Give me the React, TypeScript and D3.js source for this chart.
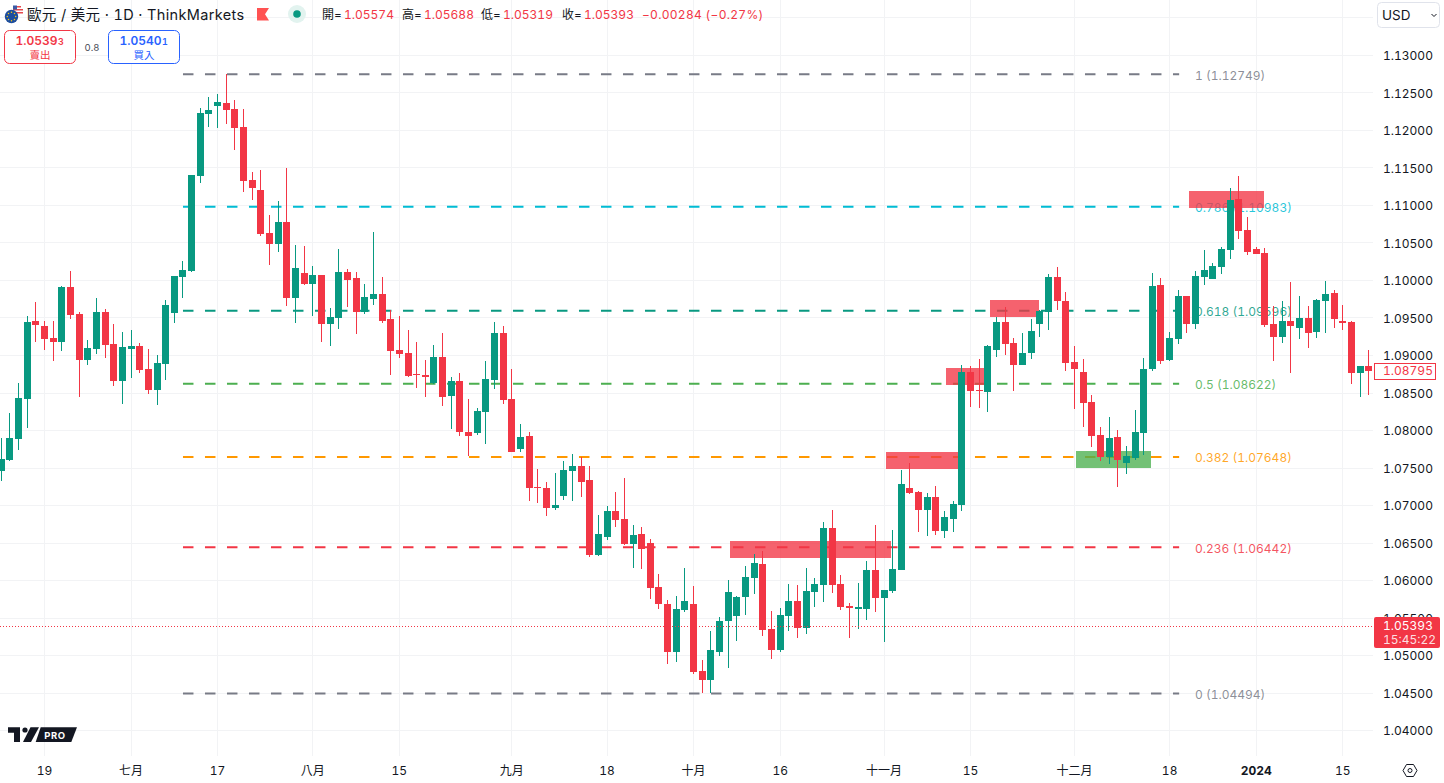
import React from "react";
import { scaleLinear } from "d3";

const WIDTH = 1444;
const HEIGHT = 783;
const UP = "#089981";
const DOWN = "#F23645";
const FONT = 'Inter, "Noto Sans CJK TC", sans-serif';
const TABULAR = { fontVariantNumeric: "tabular-nums" };

const highs = [
  1.079, 1.08233, 1.08633, 1.09527, 1.09713, 1.0946, 1.0946, 1.09927, 1.10127, 1.0958,
  1.09207, 1.09767, 1.0962, 1.0942, 1.09313, 1.0934, 1.09167, 1.09087, 1.09007, 1.0974,
  1.1006, 1.1026, 1.11407, 1.123, 1.12447, 1.12487, 1.12749, 1.12407, 1.12287, 1.11447,
  1.11473, 1.10873, 1.1106, 1.115, 1.10473, 1.1046, 1.10193, 1.10073, 1.09633, 1.1042,
  1.10153, 1.10114, 1.09954, 1.10647, 1.10047, 1.09607, 1.09527, 1.0934, 1.0918, 1.0894,
  1.0914, 1.093, 1.08714, 1.08767, 1.0842, 1.083, 1.08927, 1.09447, 1.09394, 1.0882,
  1.08087, 1.0798, 1.07487, 1.07314, 1.07434, 1.07594, 1.07687, 1.07647, 1.07527, 1.06874,
  1.06994, 1.0718, 1.07367, 1.0674, 1.06714, 1.06553, 1.06086, 1.0574, 1.05793, 1.06166,
  1.05926, 1.0494, 1.05326, 1.05513, 1.06006, 1.05793, 1.06193, 1.06353, 1.06393, 1.05593,
  1.05633, 1.05953, 1.0594, 1.06166, 1.06033, 1.0678, 1.0694, 1.06073, 1.057, 1.05966,
  1.0626, 1.0674, 1.05873, 1.06673, 1.07473, 1.07567, 1.07193, 1.07167, 1.0726, 1.06927,
  1.0706, 1.08873, 1.0886, 1.08953, 1.0914, 1.09513, 1.09647, 1.09233, 1.093, 1.09487,
  1.09607, 1.10087, 1.1018, 1.09847, 1.09127, 1.08953, 1.08473, 1.08047, 1.0818, 1.08007,
  1.07793, 1.08273, 1.08967, 1.101, 1.10033, 1.09313, 1.09874, 1.09794, 1.10127, 1.10407,
  1.10234, 1.10447, 1.11234, 1.11394, 1.10847, 1.10447, 1.10434, 1.0966, 1.09727, 1.0998,
  1.09794, 1.0966, 1.09754, 1.09994, 1.09874, 1.09674, 1.0946, 1.0886, 1.09074,
];

const lows = [
  1.07327, 1.07593, 1.0774, 1.08033, 1.0918, 1.09073, 1.08927, 1.0906, 1.09487, 1.08447,
  1.08873, 1.0902, 1.08967, 1.08593, 1.08353, 1.087, 1.08767, 1.08487, 1.0834, 1.08673,
  1.09433, 1.09767, 1.10113, 1.113, 1.12047, 1.12033, 1.12087, 1.1174, 1.1118, 1.11073,
  1.10593, 1.10207, 1.1038, 1.0966, 1.09433, 1.0994, 1.09527, 1.0918, 1.09127, 1.09353,
  1.09647, 1.09287, 1.09554, 1.09674, 1.09434, 1.0874, 1.08967, 1.08714, 1.08567, 1.08447,
  1.0862, 1.08327, 1.0802, 1.07927, 1.0766, 1.0794, 1.0782, 1.08554, 1.08354, 1.07714,
  1.07714, 1.0706, 1.07034, 1.0686, 1.0694, 1.07074, 1.0706, 1.07114, 1.06314, 1.06327,
  1.0654, 1.06714, 1.06474, 1.06167, 1.06154, 1.05753, 1.0562, 1.04886, 1.04913, 1.0558,
  1.04753, 1.04494, 1.045, 1.04993, 1.04833, 1.05193, 1.0554, 1.0582, 1.0526, 1.04953,
  1.05046, 1.05326, 1.05233, 1.05286, 1.05646, 1.05713, 1.05833, 1.05606, 1.05233, 1.05353,
  1.05473, 1.0558, 1.0518, 1.05833, 1.0614, 1.07153, 1.06647, 1.06593, 1.06607, 1.06567,
  1.06647, 1.06927, 1.08313, 1.083, 1.08247, 1.0898, 1.09007, 1.08527, 1.08873, 1.08953,
  1.09247, 1.0934, 1.09607, 1.08793, 1.08287, 1.08047, 1.0778, 1.07593, 1.07553, 1.07247,
  1.0742, 1.07607, 1.07673, 1.08793, 1.08887, 1.08927, 1.09154, 1.093, 1.09354, 1.0994,
  1.1002, 1.10087, 1.10287, 1.10554, 1.1034, 1.10354, 1.0938, 1.08927, 1.09167, 1.08767,
  1.0922, 1.091, 1.09234, 1.093, 1.09367, 1.0934, 1.0862, 1.08447, 1.08474,
];

const opens = [
  1.0746, 1.07607, 1.07887, 1.0842, 1.0946, 1.09393, 1.09233, 1.0918, 1.09913, 1.09553,
  1.0894, 1.09087, 1.0958, 1.09153, 1.0866, 1.09087, 1.09127, 1.0882, 1.0854, 1.08887,
  1.09567, 1.10047, 1.10127, 1.11393, 1.1222, 1.12327, 1.12367, 1.12287, 1.12047, 1.1134,
  1.11207, 1.10633, 1.10487, 1.1078, 1.09767, 1.101, 1.09953, 1.10073, 1.0942, 1.095,
  1.10113, 1.10034, 1.0958, 1.09754, 1.0982, 1.09487, 1.09074, 1.09034, 1.08754, 1.0874,
  1.08634, 1.0898, 1.0846, 1.0866, 1.0798, 1.07967, 1.08247, 1.08674, 1.093, 1.0842,
  1.07754, 1.07927, 1.07247, 1.07234, 1.06967, 1.07127, 1.0746, 1.07527, 1.0734, 1.0634,
  1.0658, 1.06927, 1.0682, 1.06487, 1.0662, 1.065, 1.05913, 1.05686, 1.05046, 1.05606,
  1.05686, 1.04793, 1.04673, 1.05046, 1.0546, 1.05526, 1.0578, 1.06033, 1.0622, 1.05353,
  1.05073, 1.05526, 1.05726, 1.05366, 1.05846, 1.0594, 1.067, 1.05953, 1.0566, 1.0562,
  1.0562, 1.0614, 1.05766, 1.0586, 1.0614, 1.07233, 1.0718, 1.0694, 1.07113, 1.0666,
  1.0682, 1.07007, 1.0878, 1.0854, 1.08513, 1.09073, 1.09447, 1.09167, 1.08873, 1.09033,
  1.0942, 1.0958, 1.10047, 1.09727, 1.08913, 1.0878, 1.0838, 1.0794, 1.07647, 1.07913,
  1.07567, 1.07633, 1.07967, 1.0882, 1.0994, 1.0894, 1.0922, 1.09794, 1.0942, 1.10047,
  1.1002, 1.1018, 1.10407, 1.11087, 1.10674, 1.1042, 1.10367, 1.0942, 1.09247, 1.0946,
  1.09367, 1.095, 1.09314, 1.09727, 1.09834, 1.0946, 1.09447, 1.08767, 1.0886,
];

const closes = [
  1.0762, 1.079, 1.08433, 1.09447, 1.09407, 1.0922, 1.0918, 1.09913, 1.0954, 1.0894,
  1.091, 1.0958, 1.0914, 1.0866, 1.09113, 1.09127, 1.08807, 1.0854, 1.089, 1.09673,
  1.1006, 1.1014, 1.11407, 1.12233, 1.12273, 1.1238, 1.12273, 1.12033, 1.11327, 1.11233,
  1.1062, 1.10487, 1.1078, 1.09767, 1.10167, 1.09953, 1.10073, 1.0942, 1.09513, 1.10113,
  1.10007, 1.0958, 1.0978, 1.0982, 1.0946, 1.0906, 1.0902, 1.08727, 1.0874, 1.08714,
  1.0898, 1.08447, 1.0866, 1.0798, 1.07927, 1.0826, 1.08687, 1.093, 1.08407, 1.07714,
  1.07914, 1.07234, 1.07234, 1.06967, 1.07007, 1.07474, 1.07527, 1.07314, 1.0634, 1.0662,
  1.06927, 1.06807, 1.06487, 1.06607, 1.0642, 1.059, 1.05686, 1.05046, 1.0562, 1.05726,
  1.0478, 1.04673, 1.05073, 1.0546, 1.05846, 1.0578, 1.06046, 1.06233, 1.0534, 1.05073,
  1.0554, 1.05726, 1.05366, 1.0586, 1.05953, 1.067, 1.0594, 1.05646, 1.05633, 1.05646,
  1.0614, 1.05766, 1.05873, 1.06153, 1.07286, 1.07167, 1.0694, 1.07113, 1.0666, 1.06847,
  1.0702, 1.0878, 1.08527, 1.08527, 1.09127, 1.09447, 1.09153, 1.08873, 1.09033, 1.09327,
  1.09593, 1.10047, 1.09727, 1.089, 1.0882, 1.08367, 1.07927, 1.07647, 1.079, 1.07607,
  1.0766, 1.0798, 1.0882, 1.09927, 1.08927, 1.09233, 1.09794, 1.0942, 1.1006, 1.1014,
  1.10194, 1.1042, 1.11074, 1.1066, 1.1038, 1.10354, 1.09407, 1.09247, 1.0946, 1.09394,
  1.095, 1.093, 1.0974, 1.0982, 1.09487, 1.09434, 1.08767, 1.0886, 1.08795,
];

// price axis
const priceTicks = [1.13, 1.125, 1.12, 1.115, 1.11, 1.105, 1.1, 1.095, 1.09, 1.085, 1.08, 1.075, 1.07, 1.065, 1.06, 1.055, 1.05, 1.045, 1.04];
const unlabeledTicks = [1.135];

// time axis, position is the bar number
const timeBars = [5, 15, 25, 36, 46, 59, 70, 80, 90, 102, 112, 124, 135, 145, 155];
const timeLabels = ["19", "七月", "17", "八月", "15", "九月", "18", "十月", "16", "十一月", "15", "十二月", "18", "2024", "15"];

// fib retracement
const fibRatios = ["1", "0.786", "0.618", "0.5", "0.382", "0.236", "0"];
const fibPrices = [1.12749, 1.10983, 1.09596, 1.08622, 1.07648, 1.06442, 1.04494];
const fibColors = ["#787B86", "#00BCD4", "#089981", "#4CAF50", "#FF9800", "#F23645", "#787B86"];
const fibFromBar = 21;
const fibToBar = 136.1;

// order block zones
const zoneFrom = [84.2, 102.2, 109.2, 114.2, 124.2, 137.2];
const zoneTo = [102.8, 110.7, 113.7, 119.9, 132.8, 145.9];
const zoneTop = [1.06527, 1.07713, 1.08833, 1.0974, 1.07727, 1.11193];
const zoneBottom = [1.063, 1.07487, 1.08607, 1.09513, 1.075, 1.10967];
const zoneColors = [DOWN, DOWN, DOWN, DOWN, "#4CAF50", DOWN];

const lastPrice = 1.05393;
const prevClose = 1.08795;

const legendLabels = ["開=", "高=", "低=", "收="];
const legendValues = ["1.05574", "1.05688", "1.05319", "1.05393"];
const legendLabelX = [322, 402, 481, 562];

const xScale = scaleLinear().domain([0, 158]).range([1.225, 1368.7]);
const yScale = scaleLinear().domain([1.13, 1.04]).range([55.5, 730.5]);

function Candles() {
  return (
    <g shapeRendering="crispEdges">
      {closes.map((close, i) => {
        const open = opens[i];
        const color = close >= open ? UP : DOWN;
        const col = Math.floor(xScale(i));
        const top = Math.round(yScale(Math.max(open, close)));
        const bottom = Math.round(yScale(Math.min(open, close)));
        const hi = Math.round(yScale(highs[i]));
        const lo = Math.round(yScale(lows[i]));
        return (
          <g key={i} fill={color}>
            <rect x={col} y={hi} width={1} height={Math.max(lo - hi, 1)} />
            <rect x={col - 3} y={top} width={7} height={Math.max(bottom - top, 1)} />
          </g>
        );
      })}
    </g>
  );
}

function Header() {
  return (
    <g fontFamily={FONT} style={TABULAR}>
      {/* pair icon */}
      <circle cx={17.5} cy={10.5} r={5.5} fill="#fff" />
      <path d="M14 6h7v1.4h-7zM13 9h10v1.4H13zM13 12h10v1.4H13z" fill="#E5484D" />
      <rect x={13} y={5.5} width={4} height={4} fill="#3B5BA5" />
      <circle cx={11.5} cy={16.5} r={6.7} fill="#1D4E9E" />
      {[0, 1, 2, 3, 4, 5, 6, 7].map((k) => (
        <circle
          key={k}
          cx={11.5 + 4.2 * Math.cos((k * Math.PI) / 4)}
          cy={16.5 + 4.2 * Math.sin((k * Math.PI) / 4)}
          r={0.75}
          fill="#F5C518"
        />
      ))}

      <text x={27} y={19.5} fontSize={14.5} letterSpacing={0.35} fill="#131722">
        歐元 / 美元 · 1D · ThinkMarkets
      </text>
      <path d="M257 8h12l-4 6.2 4 6.3h-12z" fill="#FF5252" />
      <circle cx={297} cy={14} r={9} fill="#E2F3EF" />
      <circle cx={297} cy={14} r={3.8} fill={UP} />

      {legendLabels.map((label, i) => (
        <g key={label} fontSize={12}>
          <text x={legendLabelX[i]} y={19} fill="#131722">
            {label}
          </text>
          <text x={legendLabelX[i] + 22} y={19} fill={DOWN}>
            {legendValues[i]}
          </text>
        </g>
      ))}
      <text x={642} y={19} fontSize={12} letterSpacing={0.3} fill={DOWN}>
        −0.00284 (−0.27%)
      </text>

      {/* sell / buy buttons */}
      <rect x={4.5} y={30.5} width={71} height={33} rx={5} fill="#fff" stroke={DOWN} />
      <text x={15.5} y={44.5} fontSize={12} fontWeight={600} fill={DOWN}>
        1.0539<tspan fontSize={9} dx={0.5}>3</tspan>
      </text>
      <text x={40} y={59} fontSize={10.5} textAnchor="middle" fill={DOWN}>
        賣出
      </text>
      <text x={92} y={51} fontSize={9.5} textAnchor="middle" fill="#4A4E59">
        0.8
      </text>
      <rect x={108.5} y={30.5} width={71} height={33} rx={5} fill="#fff" stroke="#2962FF" />
      <text x={119.5} y={44.5} fontSize={12} fontWeight={600} fill="#2962FF">
        1.0540<tspan fontSize={9} dx={0.5}>1</tspan>
      </text>
      <text x={144} y={59} fontSize={10.5} textAnchor="middle" fill="#2962FF">
        買入
      </text>

      {/* currency button */}
      <rect x={1377.5} y={2.5} width={62} height={25} rx={4} fill="#fff" stroke="#E0E3EB" />
      <text x={1382} y={19.5} fontSize={13.5} fill="#131722">
        USD
      </text>
      <path d="M1431.5 14l2.5 2.5 2.5-2.5" fill="none" stroke="#131722" strokeWidth={1} />
    </g>
  );
}

function Logo() {
  return (
    <g fill="#131722" fontFamily={FONT}>
      <path d="M8 727.3h12V742h-6v-9.3H8z" />
      <circle cx={25} cy={730} r={2.6} />
      <path d="M30.5 727.3h8.5L31 742h-8z" />
      <path d="M40.7 727.3H77L71.3 742H35.7z" />
      <text x={55} y={738.6} fontSize={9.5} fontWeight={700} letterSpacing={0.6} fill="#fff" textAnchor="middle">
        PRO
      </text>
    </g>
  );
}

export default function App() {
  return (
    <svg
      width={WIDTH}
      height={HEIGHT}
      viewBox={`0 0 ${WIDTH} ${HEIGHT}`}
      style={{ position: "absolute", left: 0, top: 0, display: "block", background: "#fff" }}
    >
      {/* Grid */}
      <g stroke="#F2F3F5" strokeWidth={1} shapeRendering="crispEdges">
        {[...unlabeledTicks, ...priceTicks].map((t) => (
          <line key={t} x1={0} x2={1373} y1={Math.floor(yScale(t)) + 0.5} y2={Math.floor(yScale(t)) + 0.5} />
        ))}
        {timeBars.map((b) => (
          <line key={b} x1={Math.floor(xScale(b)) + 0.5} x2={Math.floor(xScale(b)) + 0.5} y1={0} y2={756} />
        ))}
      </g>

      {/* Fib levels */}
      {fibPrices.map((price, i) => (
        <g key={price}>
          <line
            x1={xScale(fibFromBar)}
            x2={xScale(fibToBar)}
            y1={yScale(price)}
            y2={yScale(price)}
            stroke={fibColors[i]}
            strokeWidth={2}
            strokeDasharray="10.5 11.5"
          />
          <text
            x={1195}
            y={yScale(price) + 5.5}
            fontFamily={FONT}
            fontSize={12}
            fill={fibColors[i]}
            fillOpacity={0.85}
            style={TABULAR}
          >
            {`${fibRatios[i]} (${price.toFixed(5)})`}
          </text>
        </g>
      ))}

      {/* Zones */}
      {zoneFrom.map((from, i) => (
        <rect
          key={from}
          x={xScale(from)}
          y={yScale(zoneTop[i])}
          width={xScale(zoneTo[i]) - xScale(from)}
          height={yScale(zoneBottom[i]) - yScale(zoneTop[i])}
          fill={zoneColors[i]}
          fillOpacity={0.78}
          shapeRendering="crispEdges"
        />
      ))}

      <Candles />

      {/* Last price line */}
      <line
        x1={0}
        x2={1374}
        y1={Math.floor(yScale(lastPrice)) + 0.5}
        y2={Math.floor(yScale(lastPrice)) + 0.5}
        stroke={DOWN}
        strokeWidth={1}
        strokeDasharray="1 2"
      />

      {/* Price axis */}
      <g fontFamily={FONT} fontSize={12} fill="#131722" style={TABULAR}>
        {priceTicks.map((t) => (
          <text key={t} x={1383} y={yScale(t) + 4.5}>
            {t.toFixed(5)}
          </text>
        ))}
      </g>
      <g fontFamily={FONT} fontSize={12} style={TABULAR}>
        <rect x={1374.5} y={Math.round(yScale(prevClose)) - 7.5} width={61} height={16} fill="#fff" stroke={DOWN} />
        <text x={1383} y={yScale(prevClose) + 4.5} fill={DOWN}>
          {prevClose.toFixed(5)}
        </text>
        <rect x={1374} y={Math.round(yScale(lastPrice)) - 9} width={66} height={31} rx={2} fill={DOWN} />
        <text x={1383} y={yScale(lastPrice) + 4} fill="#fff">
          {lastPrice.toFixed(5)}
        </text>
        <text x={1383} y={yScale(lastPrice) + 18} fill="#fff" fillOpacity={0.85}>
          15:45:22
        </text>
      </g>

      {/* Time axis */}
      <g fontFamily={FONT} fontSize={12} fill="#131722" textAnchor="middle" style={TABULAR}>
        {timeBars.map((b, i) => (
          <text key={b} x={xScale(b)} y={775} fontWeight={timeLabels[i] === "2024" ? 700 : 400}>
            {timeLabels[i]}
          </text>
        ))}
      </g>
      <g transform="translate(1410 770.5)" fill="none" stroke="#131722" strokeWidth={1}>
        <path d="M-7 0l3.5-6h7L7 0l-3.5 6h-7z" />
        <circle r={2} />
      </g>

      <Logo />
      <Header />
    </svg>
  );
}
